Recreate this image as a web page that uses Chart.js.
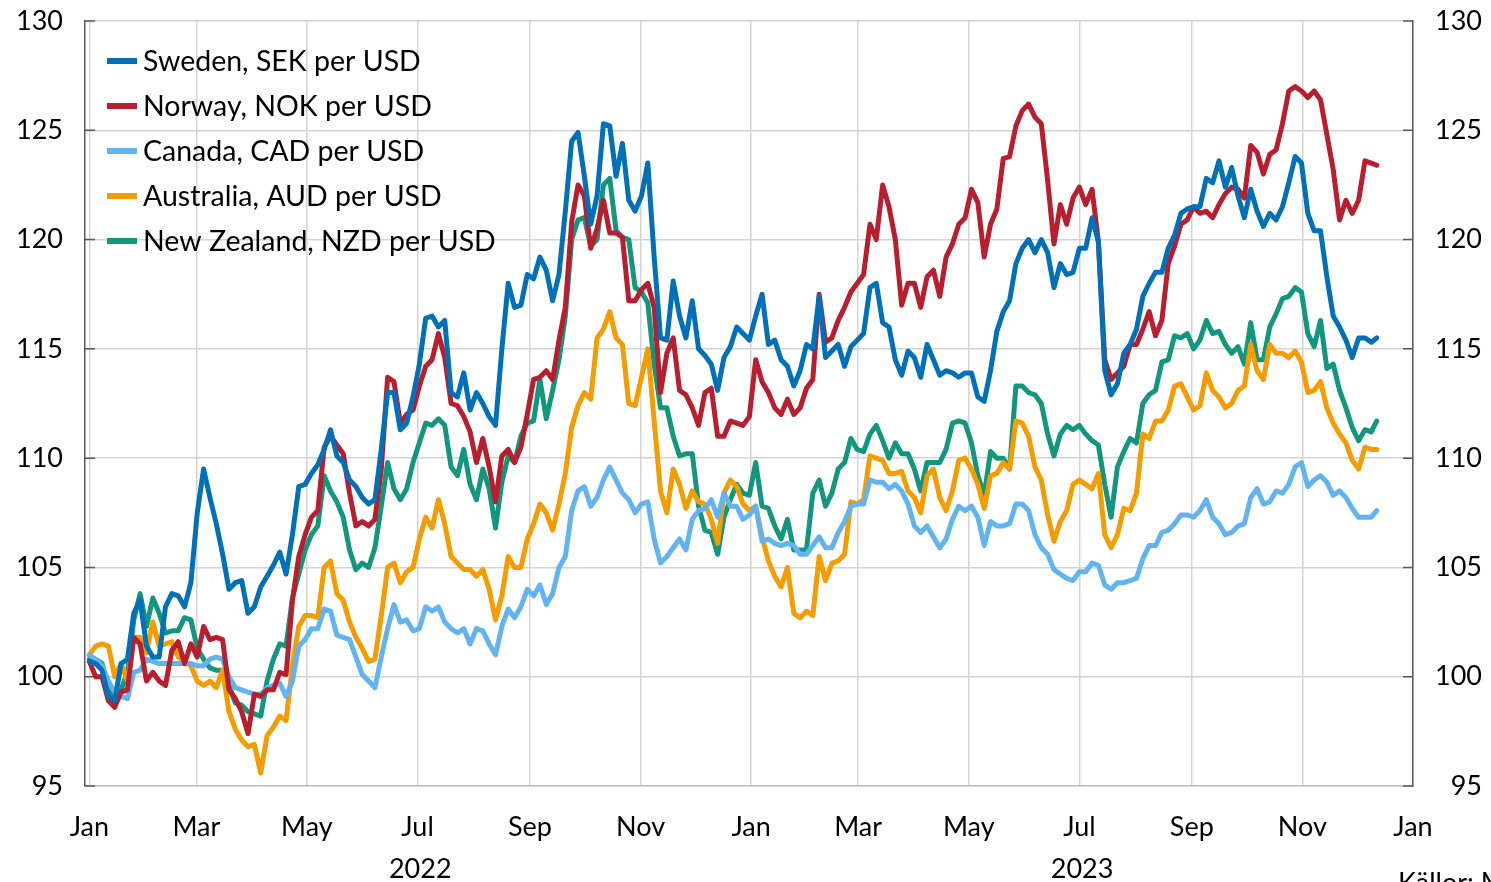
<!DOCTYPE html>
<html><head><meta charset="utf-8">
<script src="https://cdn.jsdelivr.net/npm/chart.js@4.4.0/dist/chart.umd.min.js"></script>
<style>html,body{margin:0;padding:0;background:#fff;overflow:hidden}canvas{display:block}</style>
</head><body>
<canvas id="c" width="1491" height="882"></canvas>
<script>
// Days since 1 Jan 2022 (half-weekly samples)
const days = [0,3.5,7,10.5,14,17.5,21,24.5,28,31.5,
35,38.5,42,45.5,49,52.5,56,59.5,63,66.5,
70,73.5,77,80.5,84,87.5,91,94.5,98,101.5,
105,108.5,112,115.5,119,122.5,126,129.5,133,136.5,
140,143.5,147,150.5,154,157.5,161,164.5,168,171.5,
175,178.5,182,185.5,189,192.5,196,199.5,203,206.5,
210,213.5,217,220.5,224,227.5,231,234.5,238,241.5,
245,248.5,252,255.5,259,262.5,266,269.5,273,276.5,
280,283.5,287,290.5,294,297.5,301,304.5,308,311.5,
315,318.5,322,325.5,329,332.5,336,339.5,343,346.5,
350,353.5,357,360.5,364,367.5,371,374.5,378,381.5,
385,388.5,392,395.5,399,402.5,406,409.5,413,416.5,
420,423.5,427,430.5,434,437.5,441,444.5,448,451.5,
455,458.5,462,465.5,469,472.5,476,479.5,483,486.5,
490,493.5,497,500.5,504,507.5,511,514.5,518,521.5,
525,528.5,532,535.5,539,542.5,546,549.5,553,556.5,
560,563.5,567,570.5,574,577.5,581,584.5,588,591.5,
595,598.5,602,605.5,609,612.5,616,619.5,623,626.5,
630,633.5,637,640.5,644,647.5,651,654.5,658,661.5,
665,668.5,672,675.5,679,682.5,686,689.5,693,696.5,
700,703.5,707,710];

const sweden = [100.7,100.6,100.3,99.1,98.9,100.6,100.8,102.9,103.5,101.4,
100.9,100.9,103.2,103.8,103.7,103.2,104.3,107.5,109.5,108.2,
107.0,105.6,104.0,104.3,104.4,102.9,103.2,104.1,104.6,105.1,
105.7,104.7,106.5,108.7,108.8,109.3,109.7,110.4,111.3,110.1,
109.8,109.0,108.7,108.2,107.9,108.1,110.4,113.0,113.0,111.3,
111.6,112.8,114.3,116.4,116.5,116.0,116.3,113.0,112.8,113.9,
112.2,113.0,112.5,111.9,111.5,115.0,118.0,116.9,117.0,118.4,
118.2,119.2,118.6,117.2,118.4,121.3,124.5,124.9,122.9,120.7,
122.0,125.3,125.2,122.9,124.4,121.8,121.3,122.0,123.5,119.2,
115.5,115.4,118.1,116.5,115.5,117.2,115.0,114.7,114.3,113.1,
114.6,115.1,116.0,115.7,115.4,116.5,117.5,115.2,115.4,114.5,
114.2,113.3,114.0,115.2,115.0,117.4,114.6,114.9,115.2,114.2,
115.1,115.4,115.7,117.8,118.0,116.2,116.0,114.5,113.8,114.9,
114.6,113.7,115.2,114.5,113.8,114.0,113.9,113.7,113.9,113.9,
112.8,112.6,114.0,115.8,116.7,117.2,118.9,119.6,120.0,119.4,
120.0,119.4,117.8,118.9,118.4,118.5,119.6,119.6,121.0,119.9,
114.0,112.9,113.4,114.8,115.2,115.9,117.4,118.0,118.5,118.5,
119.6,120.2,121.2,121.4,121.5,121.5,122.8,122.6,123.6,122.4,
123.3,122.0,121.0,122.3,121.3,120.6,121.2,120.9,121.5,122.6,
123.8,123.5,121.2,120.4,120.4,118.3,116.5,116.0,115.4,114.6,
115.5,115.5,115.3,115.5];

const norway = [100.7,100.0,100.0,98.9,98.6,99.3,99.4,101.8,101.5,99.8,
100.2,99.8,99.6,101.2,101.6,100.6,101.5,100.9,102.3,101.7,
101.8,101.7,99.4,99.0,98.4,97.4,99.2,99.1,99.4,99.4,
100.2,100.1,103.5,105.5,106.5,107.3,107.6,110.5,111.0,110.6,
110.2,108.4,106.9,107.1,106.9,107.2,109.5,113.7,113.5,111.6,
112.0,112.2,113.3,114.2,114.5,115.7,114.6,112.5,112.4,111.9,
111.2,109.8,110.9,109.6,108.0,110.1,110.4,109.8,110.5,112.0,
113.6,113.7,114.0,113.6,115.4,116.9,120.8,122.5,122.0,119.6,
120.5,121.8,120.3,120.3,120.1,117.2,117.2,117.7,118.0,116.9,
113.0,114.8,115.5,113.1,112.9,112.3,111.5,113.0,113.2,111.0,
111.0,111.7,111.6,111.5,111.9,114.5,113.5,113.0,112.3,112.0,
112.7,112.0,112.3,113.2,113.6,117.5,115.3,115.5,116.3,116.9,
117.6,118.0,118.4,120.7,120.0,122.5,121.5,120.0,117.0,118.0,
118.0,116.9,118.3,118.6,117.4,119.2,119.8,120.7,121.0,122.3,
121.7,119.2,120.7,121.4,123.7,123.8,125.2,125.9,126.2,125.6,
125.3,122.7,119.8,121.6,120.7,121.9,122.4,121.6,122.3,119.9,
114.5,113.6,113.9,114.2,115.2,115.2,115.9,116.7,115.6,116.3,
118.9,119.7,120.7,120.9,121.5,121.2,121.3,121.0,121.6,122.1,
122.4,122.3,121.9,124.3,124.0,123.0,123.9,124.1,125.3,126.8,
127.0,126.8,126.5,126.8,126.4,124.8,123.2,120.9,121.8,121.2,
121.8,123.6,123.5,123.4];

const canada = [101.0,100.8,100.5,99.8,99.3,99.1,99.0,100.2,100.3,100.8,
100.7,100.6,100.6,100.6,100.6,100.6,100.6,100.5,100.5,100.8,
100.9,100.8,100.0,99.5,99.4,99.3,99.2,99.2,99.5,99.6,
99.7,99.1,99.8,101.4,101.7,102.2,102.2,103.1,103.0,101.9,
101.8,101.7,100.9,100.1,99.8,99.5,100.9,102.2,103.3,102.5,
102.6,102.1,102.2,103.2,103.0,103.2,102.5,102.2,102.0,102.2,
101.5,102.2,102.1,101.5,101.0,102.3,103.1,102.7,103.2,104.0,
103.7,104.2,103.3,103.8,105.0,105.5,107.6,108.5,108.7,107.8,
108.2,109.0,109.6,109.0,108.4,108.1,107.5,107.9,108.0,106.3,
105.2,105.5,105.9,106.3,105.8,107.2,107.6,107.7,108.1,107.3,
108.4,107.8,107.8,107.2,107.4,107.8,106.2,106.3,106.1,106.0,
106.1,106.0,105.6,105.6,106.0,106.4,105.9,105.9,106.6,107.1,
107.8,107.9,107.9,109.0,108.9,108.9,108.6,108.8,108.5,107.9,
106.9,106.6,106.9,106.4,105.9,106.3,107.2,107.8,107.6,107.8,
107.3,106.0,107.1,106.9,106.9,107.0,107.9,107.9,107.6,106.5,
105.9,105.6,104.9,104.7,104.5,104.4,104.8,104.8,105.2,105.1,
104.2,104.0,104.3,104.3,104.4,104.5,105.4,106.0,106.0,106.6,
106.7,107.0,107.4,107.4,107.3,107.6,108.1,107.3,107.0,106.5,
106.6,106.9,107.0,108.2,108.6,107.9,108.0,108.5,108.4,108.8,
109.6,109.8,108.7,109.0,109.2,108.9,108.3,108.5,108.2,107.7,
107.3,107.3,107.3,107.6];

const australia = [101.0,101.4,101.5,101.4,100.0,100.6,99.8,101.8,101.8,101.1,
102.5,101.4,101.5,101.6,100.9,100.7,100.5,99.8,99.6,99.8,
99.5,100.3,98.4,97.6,97.1,96.8,96.9,95.6,97.3,97.7,
98.2,98.0,100.5,102.3,102.8,102.8,102.7,105.0,105.3,103.8,
103.5,102.5,101.8,101.3,100.7,100.8,102.8,105.0,105.2,104.3,
104.8,105.0,106.3,107.3,106.8,108.1,107.0,105.5,105.2,104.9,
104.9,104.6,104.9,104.0,102.6,103.7,105.5,105.0,105.0,106.3,
107.0,107.9,107.5,106.7,107.9,109.3,111.4,112.4,113.0,112.7,
115.5,115.9,116.7,115.5,115.2,112.5,112.4,113.7,115.0,111.7,
108.5,107.5,109.5,108.8,107.7,108.5,108.0,107.9,107.2,106.1,
108.4,109.0,108.7,107.9,107.6,107.8,106.4,105.3,104.6,104.1,
105.0,102.9,102.7,103.0,102.8,105.5,104.4,105.2,105.3,105.6,
108.0,107.9,108.1,110.1,110.0,109.9,109.3,109.3,109.4,108.5,
108.2,107.5,109.2,109.5,108.2,107.6,108.5,109.9,110.0,109.5,
108.8,107.7,109.2,109.3,109.8,109.5,111.7,111.6,111.0,109.6,
109.0,107.4,106.2,107.1,107.6,108.8,109.0,108.8,108.6,109.3,
106.5,105.9,106.5,107.7,107.6,108.4,111.1,110.9,111.7,111.7,
112.2,113.3,113.4,112.8,112.2,112.4,113.9,113.1,112.8,112.3,
112.5,113.1,113.3,115.2,114.0,113.6,115.2,114.8,114.8,114.6,
114.9,114.4,113.0,113.1,113.5,112.3,111.6,111.1,110.7,109.9,
109.5,110.5,110.4,110.4];

const newZealand = [100.8,100.8,100.6,99.4,98.9,99.4,100.2,102.6,103.8,102.3,
103.6,102.9,102.0,102.1,102.1,102.7,102.6,101.3,100.8,100.4,
100.3,100.3,99.6,98.8,98.7,98.4,98.3,98.2,99.8,100.8,
101.5,101.4,103.6,104.7,105.8,106.5,106.9,109.2,108.5,108.0,
107.3,105.8,104.9,105.2,105.0,105.9,107.8,109.8,108.6,108.1,
108.6,109.8,110.7,111.6,111.5,111.8,111.5,109.6,109.2,110.4,
108.8,108.1,109.5,108.6,106.8,108.9,110.1,109.8,111.0,111.6,
111.7,113.6,111.8,113.1,114.5,116.5,120.0,120.9,121.0,119.7,
120.0,122.5,122.8,120.4,120.1,120.0,117.8,117.6,117.1,114.3,
112.3,112.3,111.0,110.1,110.2,110.2,107.8,106.7,106.6,105.6,
107.3,108.1,108.8,108.4,108.3,109.8,107.8,107.7,106.9,106.3,
107.2,105.8,105.8,105.8,108.4,109.0,107.8,108.4,109.5,109.8,
110.9,110.4,110.3,111.1,111.5,110.8,110.0,110.7,110.2,110.2,
109.5,108.5,109.8,109.8,109.8,110.4,111.6,111.7,111.6,110.7,
109.2,108.3,110.3,110.0,110.0,109.5,113.3,113.3,113.0,112.9,
112.5,111.1,110.1,111.1,111.5,111.3,111.5,111.1,110.8,110.6,
108.8,107.3,109.6,110.3,110.9,110.7,112.5,112.9,113.1,114.4,
114.5,115.6,115.5,115.7,115.0,115.4,116.3,115.7,115.8,115.2,
114.8,115.1,114.3,116.2,114.5,114.5,116.0,116.6,117.3,117.4,
117.8,117.6,115.7,115.1,116.3,114.1,114.3,113.1,112.3,111.4,
110.8,111.3,111.2,111.7];

const seriesLabels = ['Sweden, SEK per USD','Norway, NOK per USD','Canada, CAD per USD','Australia, AUD per USD','New Zealand, NZD per USD'];
const seriesColors = ['#0070B8','#B81E2D','#62B4F0','#F59C00','#12967E'];
const xTickDays = [0,59,120,181,243,304,365,424,485,546,608,669,730];
const xTickLabels = ['Jan','Mar','May','Jul','Sep','Nov','Jan','Mar','May','Jul','Sep','Nov','Jan'];
const yearLabels = ['2022','2023'];
const yearLabelDays = [182.5,547.5];
const sourceText = 'Källor: Macrobond';

const FONT = 'Lato';
const FS = 27;
const LEGEND_FS = 28.5;
const allSeries = [sweden, norway, canada, australia, newZealand];

const datasets = allSeries.map((s, i) => ({
  label: seriesLabels[i],
  data: days.map((d, j) => ({x: d, y: s[j]})),
  borderColor: seriesColors[i],
  backgroundColor: seriesColors[i],
  borderWidth: 5,
  pointRadius: 0,
  tension: 0,
  borderJoinStyle: 'round',
  borderCapStyle: 'round'
}));

const extras = {
  id: 'extras',
  beforeDatasetsDraw(chart) {
    const {ctx, chartArea: a, scales: {y}} = chart;
    ctx.save();
    ctx.strokeStyle = '#595959';
    ctx.lineWidth = 1.5;
    y.ticks.forEach(t => {
      const py = y.getPixelForValue(t.value);
      ctx.beginPath();
      ctx.moveTo(a.left, py); ctx.lineTo(a.left + 10, py);
      ctx.moveTo(a.right - 10, py); ctx.lineTo(a.right, py);
      ctx.stroke();
    });
    ctx.restore();
  },
  afterDraw(chart) {
    const {ctx, scales: {x}} = chart;
    ctx.save();
    // legend
    ctx.font = LEGEND_FS + 'px ' + FONT;
    ctx.textBaseline = 'middle';
    ctx.textAlign = 'left';
    chart.data.datasets.forEach((ds, i) => {
      const cy = 61 + i * 45;
      ctx.fillStyle = ds.borderColor;
      ctx.fillRect(107, cy - 3, 30, 6);
      ctx.fillStyle = '#000';
      ctx.fillText(ds.label, 143, cy + 1);
    });
    // year labels
    ctx.font = FS + 'px ' + FONT;
    ctx.textAlign = 'center';
    yearLabels.forEach((lab, i) => {
      ctx.fillText(lab, x.getPixelForValue(yearLabelDays[i]), 869);
    });
    // source
    ctx.textAlign = 'left';
    ctx.textBaseline = 'top';
    ctx.fillText(sourceText, 1398, 870);
    ctx.restore();
  }
};

const tickFont = {family: FONT, size: FS};
function noPad(s) { s.paddingTop = 0; s.paddingBottom = 0; s.paddingLeft = 0; s.paddingRight = 0; }

new Chart(document.getElementById('c'), {
  type: 'line',
  data: {datasets},
  options: {
    responsive: false,
    animation: false,
    events: [],
    layout: {padding: {top: 21, left: 0, right: 9, bottom: 0}},
    plugins: {legend: {display: false}, tooltip: {enabled: false}},
    scales: {
      x: {
        type: 'linear', min: -2.4, max: 730,
        afterBuildTicks(s) { s.ticks = xTickDays.map(v => ({value: v})); },
        afterFit(s) { s.height = 96; noPad(s); },
        ticks: {autoSkip: false, maxRotation: 0, padding: 25, color: '#000', font: tickFont,
          callback: (v, i) => xTickLabels[i]},
        grid: {color: '#d4d4d4', lineWidth: 1.5, drawTicks: false},
        border: {color: '#bfbfbf', width: 1.5}
      },
      y: {
        position: 'left', min: 95, max: 130,
        afterFit(s) { s.width = 85; noPad(s); },
        ticks: {stepSize: 5, padding: 22, color: '#000', font: tickFont},
        grid: {color: '#d4d4d4', lineWidth: 1.5, drawTicks: false},
        border: {color: '#595959', width: 1.5}
      },
      y2: {
        position: 'right', min: 95, max: 130,
        afterFit(s) { s.width = 69; noPad(s); },
        ticks: {stepSize: 5, padding: 14, color: '#000', font: tickFont, crossAlign: 'far'},
        grid: {drawOnChartArea: false, drawTicks: false},
        border: {color: '#595959', width: 1.5}
      }
    }
  },
  plugins: [extras]
});
</script>
</body></html>
